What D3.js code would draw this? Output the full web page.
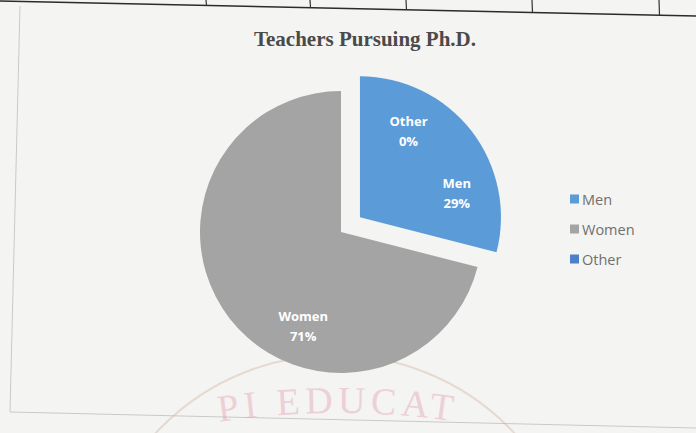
<!DOCTYPE html>
<html>
<head>
<meta charset="utf-8">
<script src="https://cdn.jsdelivr.net/npm/d3@7"></script>
<style>
  body { margin: 0; background: #f4f4f2; }
  svg { display: block; }
</style>
</head>
<body>
<div id="chart"></div>
<script>
// data
var categories = ["Men", "Women", "Other"];
var values = [29, 71, 0];
var percentLabels = ["29%", "71%", "0%"];
var colors = ["#5b9bd8", "#a4a4a4", "#4d80c6"];
var title = "Teachers Pursuing Ph.D.";

var W = 696, H = 433;
var cx = 341, cy = 232, radius = 141;
var explode = 24;      // Men slice is pulled out
// Excel moved the labels a bit, degrees relative to slice middle
var labelShift = [23, -30, 29];

var svg = d3.select("#chart").append("svg")
    .attr("width", W)
    .attr("height", H);

svg.append("rect").attr("width", W).attr("height", H).attr("fill", "#f4f4f2");

// table lines of the scanned page above the chart
var line = d3.line();
svg.append("path")
    .attr("d", line([[0, 1], [696, 16]]))
    .attr("stroke", "#2b2b2b").attr("stroke-width", 1.6).attr("fill", "none");
[206, 310, 406, 532, 659].forEach(function(x) {
  var yEnd = 1 + x * 15 / 696;
  svg.append("line")
      .attr("x1", x).attr("y1", 0).attr("x2", x + 0.5).attr("y2", yEnd)
      .attr("stroke", "#333").attr("stroke-width", 1.2);
});

// chart frame
svg.append("path")
    .attr("d", line([[20, 6], [10, 412], [696, 428]]))
    .attr("stroke", "#c9c9c9").attr("stroke-width", 1).attr("fill", "none");

// faint stamp at the bottom
var stamp = svg.append("g").attr("opacity", 0.45);
stamp.append("circle")
    .attr("cx", 335).attr("cy", 600).attr("r", 245)
    .attr("fill", "none").attr("stroke", "#d9b9a8").attr("stroke-width", 2);
var sr = 800, sx = 338, sy = 413 + sr;
stamp.append("path")
    .attr("id", "stampArc")
    .attr("d", "M " + (sx - sr) + " " + sy + " A " + sr + " " + sr + " 0 0 1 " + (sx + sr) + " " + sy)
    .attr("fill", "none");
stamp.append("text")
    .style("font-family", "Liberation Serif, serif")
    .style("font-size", "38px")
    .attr("fill", "#e3a5b6")
    .attr("letter-spacing", "5px")
    .append("textPath")
    .attr("href", "#stampArc")
    .attr("startOffset", "50%")
    .attr("text-anchor", "middle")
    .text("PI EDUCAT");

// title
svg.append("text")
    .attr("x", 365).attr("y", 46)
    .attr("text-anchor", "middle")
    .style("font-family", "Liberation Serif, Times New Roman, serif")
    .style("font-weight", "bold")
    .style("font-size", "21px")
    .attr("fill", "#4a4a4a")
    .text(title);

// pie
var pie = d3.pie().sort(null).value(function(d) { return d; });
var arcs = pie(values);
var arc = d3.arc().innerRadius(0).outerRadius(radius);

function offset(d, i) {
  if (i !== 0) return [0, 0];
  var a = (d.startAngle + d.endAngle) / 2;
  return [explode * Math.sin(a), -explode * Math.cos(a)];
}

var slices = svg.append("g")
    .attr("transform", "translate(" + cx + "," + cy + ")")
    .selectAll("g")
    .data(arcs)
  .enter().append("g")
    .attr("transform", function(d, i) {
      var o = offset(d, i);
      return "translate(" + o[0] + "," + o[1] + ")";
    });

slices.append("path")
    .attr("d", arc)
    .attr("fill", function(d, i) { return colors[i]; });

// labels
var labelG = svg.append("g")
    .attr("transform", "translate(" + cx + "," + cy + ")");
arcs.forEach(function(d, i) {
  var o = (i === 2) ? offset(arcs[0], 0) : offset(d, i);
  var a = (d.startAngle + d.endAngle) / 2 + labelShift[i] * Math.PI / 180;
  var r = radius * 0.71;
  var x = o[0] + r * Math.sin(a), y = o[1] - r * Math.cos(a);
  var t = labelG.append("text")
      .attr("text-anchor", "middle")
      .style("font-family", "Open Sans, sans-serif")
      .style("font-weight", "bold")
      .style("font-size", "13px")
      .attr("fill", "#ffffff");
  t.append("tspan").attr("x", x).attr("y", y - 4).text(categories[i]);
  t.append("tspan").attr("x", x).attr("y", y + 16).text(percentLabels[i]);
});

// legend
var legend = svg.append("g").attr("transform", "translate(570,199)");
var row = legend.selectAll("g")
    .data(categories)
  .enter().append("g")
    .attr("transform", function(d, i) { return "translate(0," + (i * 30) + ")"; });
row.append("rect")
    .attr("x", 0).attr("y", -4.5).attr("width", 9).attr("height", 9)
    .attr("fill", function(d, i) { return colors[i]; });
row.append("text")
    .attr("x", 12).attr("y", 5.5)
    .style("font-family", "Open Sans, sans-serif")
    .style("font-size", "14.5px")
    .attr("fill", "#707070")
    .text(function(d) { return d; });
</script>
</body>
</html>
